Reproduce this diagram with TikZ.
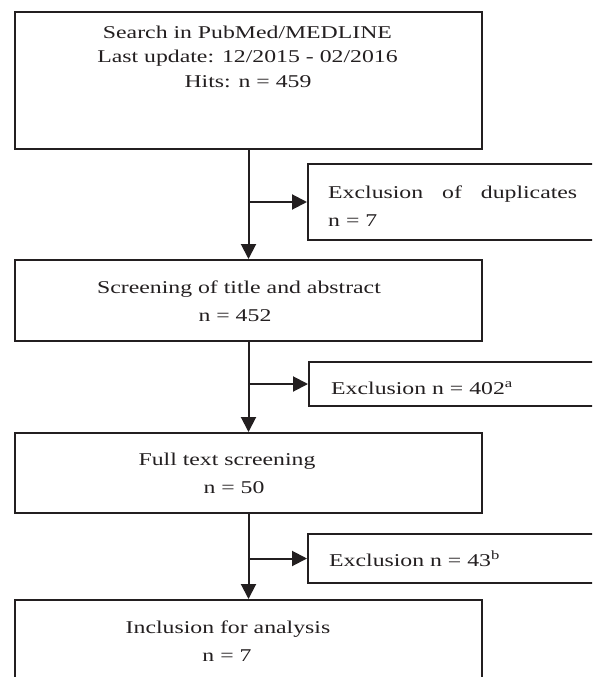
\documentclass[tikz,border=0pt]{standalone}
\usepackage{fontspec}
\setmainfont[FakeStretch=1.32]{Liberation Serif}
\usetikzlibrary{arrows.meta}
\definecolor{ink}{RGB}{35,31,32}
\tikzset{
  box/.style={draw=ink, line width=2pt, rectangle, inner sep=0pt, anchor=north west},
  txt/.style={text=ink, inner sep=0pt, font=\fontsize{18}{25}\selectfont},
  conn/.style={draw=ink, line width=2pt, -{Triangle[length=15pt,width=15pt]}},
  plain/.style={draw=ink, line width=2pt},
}
\begin{document}
\begin{tikzpicture}[x=1pt,y=-1pt]
\useasboundingbox (0,0) rectangle (592,677);
\clip (0,0) rectangle (592,677);
\fill[white] (0,0) rectangle (592,677);
% boxes
\node[box, minimum width=467pt, minimum height=137pt] (b1) at (14,11) {};
\node[box, minimum width=320pt, minimum height=76pt] (dup) at (307,163) {};
\node[box, minimum width=467pt, minimum height=81pt] (b2) at (14,259) {};
\node[box, minimum width=320pt, minimum height=44pt] (ex1) at (308,361) {};
\node[box, minimum width=467pt, minimum height=80pt] (b3) at (14,432) {};
\node[box, minimum width=320pt, minimum height=49pt] (ex2) at (307,533) {};
\node[box, minimum width=467pt, minimum height=120pt] (b4) at (14,599) {};
% texts
\node[txt, anchor=base] (t1a) at (247.5,39) {Search in PubMed/MEDLINE};
\node[txt, anchor=base] (t1b) at (247.5,63) {Last update: 12/2015 - 02/2016};
\node[txt, anchor=base] (t1c) at (248,87) {Hits: n = 459};
\node[txt, anchor=base west] (d1) at (328,198) {\makebox[249pt][s]{Exclusion of duplicates}};
\node[txt, anchor=base west] (d2) at (328,226) {n = 7};
\node[txt, anchor=base] (t2a) at (239,293) {Screening of title and abstract};
\node[txt, anchor=base] (t2b) at (235,321) {n = 452};
\node[txt, anchor=base west] (e1) at (331,394) {Exclusion n = 402\textsuperscript{a}};
\node[txt, anchor=base] (t3a) at (227,465) {Full text screening};
\node[txt, anchor=base] (t3b) at (234,493) {n = 50};
\node[txt, anchor=base west] (e2) at (329,566) {Exclusion n = 43\textsuperscript{b}};
\node[txt, anchor=base] (t4a) at (228,633) {Inclusion for analysis};
\node[txt, anchor=base] (t4b) at (227,661) {n = 7};
% connectors
\coordinate (j1) at (b1.south |- dup.west);
\coordinate (j2) at (b2.south |- ex1.west);
\coordinate (j3) at (b3.south |- ex2.west);
\draw[conn] (b1.south) -- (b2.north);
\draw[conn] (j1) -- (dup.west |- j1);
\draw[conn] (b2.south) -- (b3.north);
\draw[conn] (j2) -- (ex1.west |- j2);
\draw[conn] (b3.south) -- (b4.north);
\draw[conn] (j3) -- (ex2.west |- j3);
\end{tikzpicture}
\end{document}
